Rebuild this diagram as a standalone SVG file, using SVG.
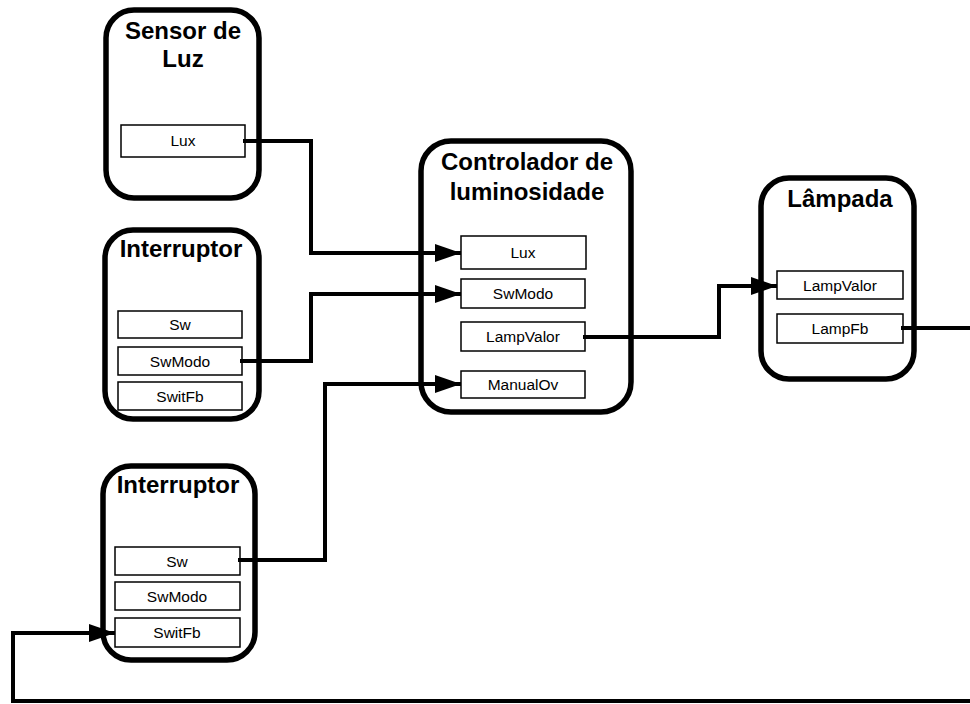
<svg xmlns="http://www.w3.org/2000/svg" width="970" height="704" viewBox="0 0 970 704">
  <style>
    .block { fill: #fff; stroke: #000; stroke-width: 5.5; }
    .port { fill: #fff; stroke: #000; stroke-width: 1.5; }
    .title { font-family: "Liberation Sans", Arial, sans-serif; font-weight: bold; font-size: 24px; text-anchor: middle; fill: #000; }
    .label { font-family: "Liberation Sans", Arial, sans-serif; font-size: 15.5px; text-anchor: middle; fill: #000; }
    .wire { fill: none; stroke: #000; stroke-width: 4; stroke-linejoin: miter; }
  </style>
  <defs>
    <marker id="arrow" markerUnits="userSpaceOnUse" markerWidth="28" markerHeight="20" refX="26" refY="9" orient="auto">
      <polygon points="0,0 26,9 0,18" fill="#000"/>
    </marker>
  </defs>
  <rect width="970" height="704" fill="#fff"/>

  <!-- Sensor de Luz -->
  <g id="sensor-luz">
    <rect class="block" x="106" y="10" width="153" height="188" rx="28"/>
    <text class="title" x="183" y="39">Sensor de</text>
    <text class="title" x="183" y="67">Luz</text>
    <rect class="port" x="121" y="125" width="124" height="32"/>
    <text class="label" x="183" y="146">Lux</text>
  </g>

  <!-- Interruptor (upper) -->
  <g id="interruptor-1">
    <rect class="block" x="105" y="230" width="154" height="189" rx="28"/>
    <text class="title" x="181" y="257">Interruptor</text>
    <rect class="port" x="118" y="311" width="124" height="27"/>
    <text class="label" x="180" y="330">Sw</text>
    <rect class="port" x="118" y="347" width="124" height="28"/>
    <text class="label" x="180" y="367">SwModo</text>
    <rect class="port" x="118" y="382" width="124" height="28"/>
    <text class="label" x="180" y="402">SwitFb</text>
  </g>

  <!-- Interruptor (lower) -->
  <g id="interruptor-2">
    <rect class="block" x="103" y="466" width="152" height="194" rx="28"/>
    <text class="title" x="178" y="493">Interruptor</text>
    <rect class="port" x="115" y="547" width="125" height="28"/>
    <text class="label" x="177" y="567">Sw</text>
    <rect class="port" x="115" y="582" width="125" height="28"/>
    <text class="label" x="177" y="602">SwModo</text>
    <rect class="port" x="115" y="618" width="125" height="29"/>
    <text class="label" x="177" y="638">SwitFb</text>
  </g>

  <!-- Controlador de luminosidade -->
  <g id="controlador">
    <rect class="block" x="421" y="141" width="210" height="271" rx="30"/>
    <text class="title" x="527" y="170">Controlador de</text>
    <text class="title" x="527" y="200">luminosidade</text>
    <rect class="port" x="461" y="236" width="125" height="33"/>
    <text class="label" x="523" y="258">Lux</text>
    <rect class="port" x="461" y="279" width="124" height="29"/>
    <text class="label" x="523" y="299">SwModo</text>
    <rect class="port" x="461" y="322" width="124" height="29"/>
    <text class="label" x="523" y="342">LampValor</text>
    <rect class="port" x="461" y="371" width="124" height="27"/>
    <text class="label" x="523" y="390">ManualOv</text>
  </g>

  <!-- Lâmpada -->
  <g id="lampada">
    <rect class="block" x="761" y="178" width="153" height="201" rx="28"/>
    <text class="title" x="840" y="207">Lâmpada</text>
    <rect class="port" x="777" y="271" width="126" height="28"/>
    <text class="label" x="840" y="291">LampValor</text>
    <rect class="port" x="777" y="314" width="126" height="29"/>
    <text class="label" x="840" y="334">LampFb</text>
  </g>

  <!-- Connectors -->
  <g id="connectors">
    <polyline class="wire" points="243,141 311,141 311,253 461,253" marker-end="url(#arrow)"/>
    <polyline class="wire" points="240,361 311,361 311,294 461,294" marker-end="url(#arrow)"/>
    <polyline class="wire" points="238,560 325,560 325,384 461,384" marker-end="url(#arrow)"/>
    <polyline class="wire" points="583,337 719,337 719,286 777,286" marker-end="url(#arrow)"/>
    <polyline class="wire" points="901,328 972,328"/>
    <polyline class="wire" points="972,701 13,701 13,633 115,633" marker-end="url(#arrow)"/>
  </g>
</svg>
